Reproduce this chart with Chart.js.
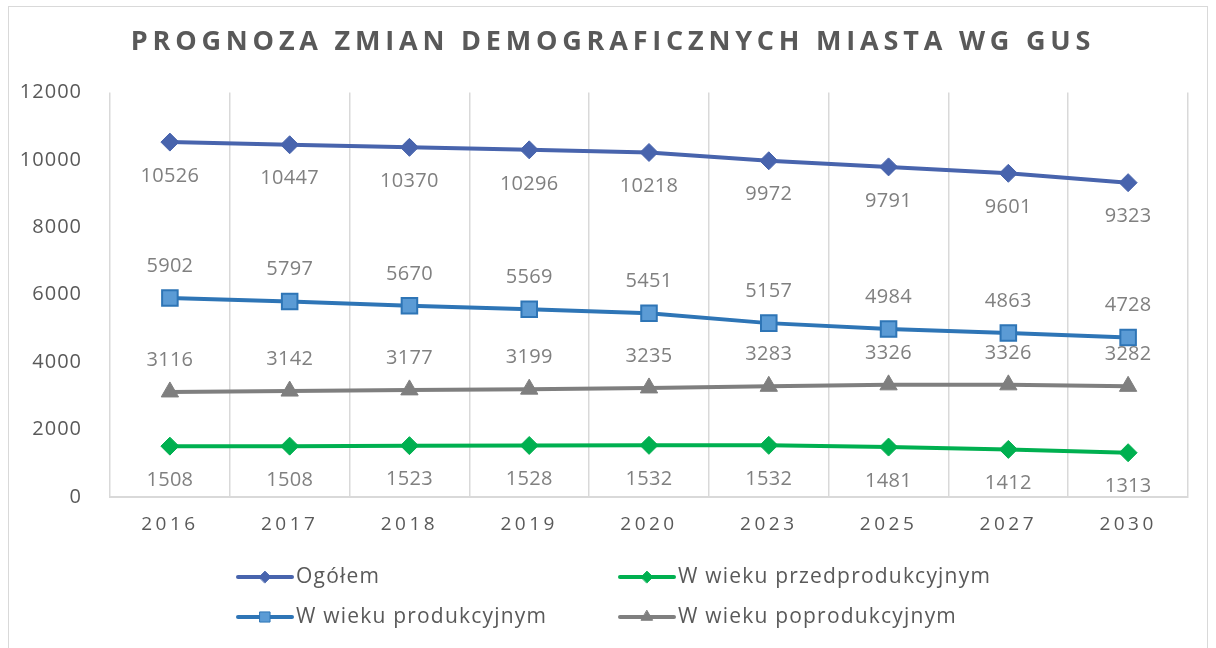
<!DOCTYPE html>
<html>
<head>
<meta charset="utf-8">
<script src="https://cdn.jsdelivr.net/npm/chart.js@4"></script>
<style>
  html, body { margin: 0; padding: 0; background: #fff; }
  #wrap { position: relative; width: 1216px; height: 648px; }
  #frame { position: absolute; left: 8px; top: 6px; width: 1200px; height: 648px; border: 1px solid #d9d9d9; box-sizing: border-box; }
  canvas { position: absolute; left: 0; top: 0; }
</style>
</head>
<body>
<div id="wrap">
  <div id="frame"></div>
  <canvas id="demoChart" width="1216" height="648"></canvas>
</div>
<script>
const years = ["2016", "2017", "2018", "2019", "2020", "2023", "2025", "2027", "2030"];
const ogolem = [10526, 10447, 10370, 10296, 10218, 9972, 9791, 9601, 9323];
const przedprodukcyjny = [1508, 1508, 1523, 1528, 1532, 1532, 1481, 1412, 1313];
const produkcyjny = [5902, 5797, 5670, 5569, 5451, 5157, 4984, 4863, 4728];
const poprodukcyjny = [3116, 3142, 3177, 3199, 3235, 3283, 3326, 3326, 3282];
const yTicks = [0, 2000, 4000, 6000, 8000, 10000, 12000];

const FONT = "'Open Sans', 'DejaVu Sans', sans-serif";

// data labels above / below each point
const valueLabels = {
  id: "valueLabels",
  afterDatasetsDraw(chart) {
    const ctx = chart.ctx;
    ctx.save();
    ctx.font = "20px " + FONT;
    ctx.letterSpacing = "0.3px";
    ctx.fillStyle = "#808080";
    ctx.textAlign = "center";
    ctx.textBaseline = "middle";
    chart.data.datasets.forEach((ds, i) => {
      const meta = chart.getDatasetMeta(i);
      meta.data.forEach((pt, j) => {
        const dy = ds.labelPos === "below" ? 34 : -32;
        ctx.fillText(String(ds.data[j]), pt.x, pt.y + dy);
      });
    });
    ctx.letterSpacing = "0px";
    ctx.restore();
  },
};

// spaced title + axis labels, two-column legend
const excelLook = {
  id: "excelLook",
  beforeDraw(chart) {
    const ctx = chart.ctx;
    const spaced = (obj, fn, spacing, dx) => {
      if (!obj || obj["_sp_" + fn]) return;
      const orig = obj[fn].bind(obj);
      obj[fn] = function (...args) {
        ctx.save();
        ctx.translate(dx, 0);
        ctx.letterSpacing = spacing;
        orig(...args);
        ctx.letterSpacing = "0px";
        ctx.restore();
      };
      obj["_sp_" + fn] = true;
    };
    spaced(chart.scales.x, "drawLabels", "3.5px", 0);
    spaced(chart.scales.y, "drawLabels", "1px", 0);
    spaced(chart.titleBlock, "draw", "4.8px", 19);
  },
  afterDraw(chart) {
    const ctx = chart.ctx;
    const cols = [238, 620];
    const rows = [577, 617];
    ctx.save();
    ctx.font = "21px " + FONT;
    ctx.letterSpacing = "1.2px";
    ctx.textBaseline = "middle";
    chart.data.datasets.forEach((ds, i) => {
      const lx = cols[i % 2];
      const ly = rows[Math.floor(i / 2)];
      ctx.strokeStyle = ds.borderColor;
      ctx.lineWidth = 4;
      ctx.lineCap = "round";
      ctx.beginPath();
      ctx.moveTo(lx, ly);
      ctx.lineTo(lx + 54, ly);
      ctx.stroke();
      ctx.fillStyle = ds.pointBackgroundColor;
      ctx.strokeStyle = ds.pointBorderColor;
      ctx.lineWidth = 1;
      Chart.helpers.drawPoint(ctx, {
        pointStyle: ds.pointStyle,
        radius: ds.pointRadius * 0.65,
        borderWidth: 1,
      }, lx + 27, ly);
      ctx.fillStyle = "#595959";
      ctx.textAlign = "left";
      ctx.fillText(ds.label, lx + 58, ly);
    });
    ctx.letterSpacing = "0px";
    ctx.restore();
  },
};

new Chart(document.getElementById("demoChart"), {
  type: "line",
  data: {
    labels: years,
    datasets: [
      {
        label: "Ogółem",
        data: ogolem,
        borderColor: "#4864ad",
        pointBackgroundColor: "#4864ad",
        pointBorderColor: "#4864ad",
        pointStyle: "rectRot",
        pointRadius: 9,
        labelPos: "below",
      },
      {
        label: "W wieku przedprodukcyjnym",
        data: przedprodukcyjny,
        borderColor: "#00b050",
        pointBackgroundColor: "#00b050",
        pointBorderColor: "#00b050",
        pointStyle: "rectRot",
        pointRadius: 9,
        labelPos: "below",
      },
      {
        label: "W wieku produkcyjnym",
        data: produkcyjny,
        borderColor: "#2e75b6",
        pointBackgroundColor: "#5b9bd5",
        pointBorderColor: "#2e75b6",
        pointStyle: "rect",
        pointRadius: 11,
        pointBorderWidth: 2,
        labelPos: "above",
      },
      {
        label: "W wieku poprodukcyjnym",
        data: poprodukcyjny,
        borderColor: "#7f7f7f",
        pointBackgroundColor: "#7f7f7f",
        pointBorderColor: "#7f7f7f",
        pointStyle: "triangle",
        pointRadius: 10,
        labelPos: "above",
      },
    ],
  },
  options: {
    responsive: false,
    animation: false,
    datasets: { line: { borderWidth: 4, tension: 0, pointBorderWidth: 1 } },
    layout: { padding: { left: 0, right: 28, top: 0, bottom: 0 } },
    plugins: {
      legend: { display: false },
      tooltip: { enabled: false },
      title: {
        display: true,
        text: "PROGNOZA ZMIAN DEMOGRAFICZNYCH MIASTA WG GUS",
        color: "#595959",
        font: { family: FONT, size: 27, weight: "bold" },
        padding: { top: 26, bottom: 34 },
      },
    },
    scales: {
      x: {
        offset: true,
        grid: { display: true, offset: true, color: "#d9d9d9", lineWidth: 1.5, drawTicks: false },
        border: { color: "#d9d9d9", width: 2 },
        ticks: { color: "#595959", font: { family: FONT, size: 19 }, padding: 16 },
        afterFit(scale) { scale.height = 151; },
      },
      y: {
        min: 0,
        max: 12000,
        afterBuildTicks(scale) { scale.ticks = yTicks.map((v) => ({ value: v })); },
        grid: { display: false },
        border: { display: false },
        ticks: {
          color: "#595959",
          font: { family: FONT, size: 20 },
          padding: 20,
          callback: (v) => String(v),
        },
        afterFit(scale) { scale.width = 110; },
      },
    },
  },
  plugins: [valueLabels, excelLook],
});
</script>
</body>
</html>
